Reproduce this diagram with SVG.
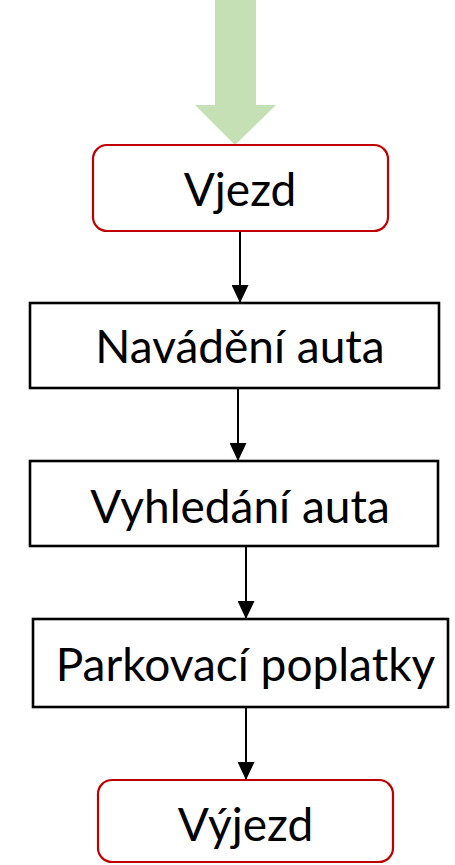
<svg xmlns="http://www.w3.org/2000/svg" width="455" height="865" viewBox="0 0 455 865">
<style>
.t{font-family:Lato,"Open Sans",sans-serif;font-size:46px;fill:#000;text-anchor:middle}
.red{fill:#fff;stroke:#C00000;stroke-width:2.2}
.box{fill:#fff;stroke:#000;stroke-width:2.6}
.c{stroke:#000;stroke-width:2;fill:none}
</style>
<defs>
<marker id="ah" markerUnits="userSpaceOnUse" markerWidth="18" markerHeight="17" refX="18" refY="8.5" orient="auto">
<path d="M0,0 L18,8.5 L0,17 Z" fill="#000"/>
</marker>
</defs>
<polygon points="215,0 256,0 256,105 276,105 235,145 195,105 215,105" fill="#C5E0B4"/>
<g id="connectors">
<line class="c" x1="240" y1="231" x2="240" y2="303" marker-end="url(#ah)"/>
<line class="c" x1="238" y1="388" x2="238" y2="461" marker-end="url(#ah)"/>
<line class="c" x1="246" y1="546" x2="246" y2="619" marker-end="url(#ah)"/>
<line class="c" x1="246" y1="707" x2="246" y2="780" marker-end="url(#ah)"/>
</g>
<g id="vjezd">
<rect class="red" x="93" y="145" width="295" height="86" rx="14"/>
<text class="t" x="240" y="206">Vjezd</text>
</g>
<g id="navadeni">
<rect class="box" x="30" y="303" width="409" height="85"/>
<text class="t" x="240" y="363">Navádění auta</text>
</g>
<g id="vyhledani">
<rect class="box" x="30" y="461" width="408" height="85"/>
<text class="t" x="240" y="523">Vyhledání auta</text>
</g>
<g id="parkovaci">
<rect class="box" x="33" y="619" width="415" height="88"/>
<text class="t" x="245.5" y="681">Parkovací poplatky</text>
</g>
<g id="vyjezd">
<rect class="red" x="98" y="780" width="295" height="82" rx="14"/>
<text class="t" x="245.5" y="841">Výjezd</text>
</g>
</svg>
